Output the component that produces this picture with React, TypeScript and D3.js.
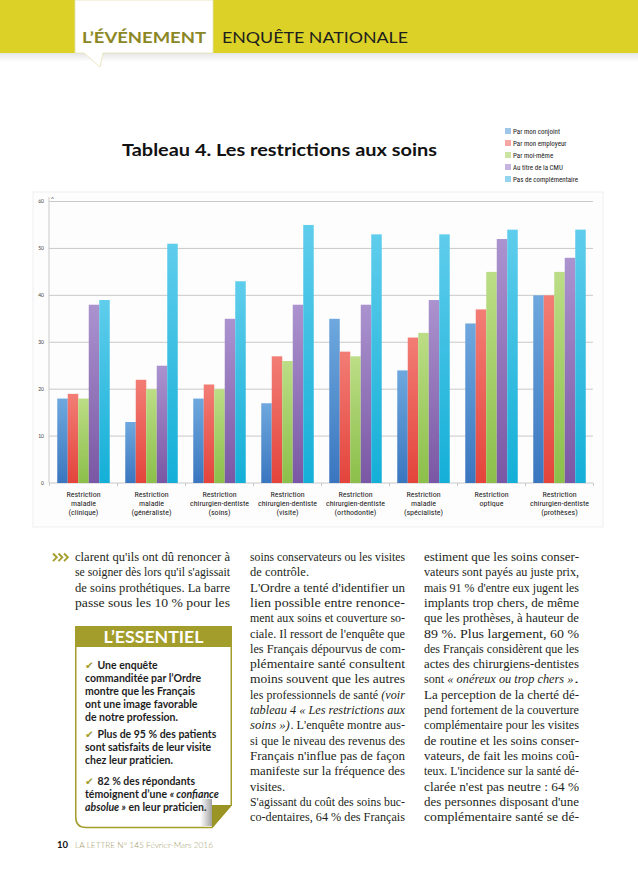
import React from 'react';
import * as d3 from 'd3';

// ---------- chart data ----------
const categories: string[][] = [
  ['Restriction', 'maladie', '(clinique)'],
  ['Restriction', 'maladie', '(généraliste)'],
  ['Restriction', 'chirurgien-dentiste', '(soins)'],
  ['Restriction', 'chirurgien-dentiste', '(visite)'],
  ['Restriction', 'chirurgien-dentiste', '(orthodontie)'],
  ['Restriction', 'maladie', '(spécialiste)'],
  ['Restriction', 'optique'],
  ['Restriction', 'chirurgien-dentiste', '(prothèses)'],
];
const seriesNames = ['Par mon conjoint', 'Par mon employeur', 'Par moi-même', 'Au titre de la CMU', 'Pas de complémentaire'];
const conjoint = [18, 13, 18, 17, 35, 24, 34, 40];
const employeur = [19, 22, 21, 27, 28, 31, 37, 40];
const moiMeme = [18, 20, 20, 26, 27, 32, 45, 45];
const cmu = [38, 25, 35, 38, 38, 39, 52, 48];
const sansComplementaire = [39, 51, 43, 55, 53, 53, 54, 54];
const yTicks = [0, 10, 20, 30, 40, 50, 60];

const seriesValues = [conjoint, employeur, moiMeme, cmu, sansComplementaire];
const barTop = ['#6ea8de', '#f27d75', '#bcdd86', '#ab93cf', '#5fcdec'];
const barBottom = ['#3a76bf', '#e3443b', '#8bbf4a', '#7a57a4', '#14afd7'];
const legendColors = ['#9fc5e8', '#f4a7a3', '#cbe4a2', '#c4b4de', '#93d5ee'];

// ---------- page text ----------
type Seg = { t: string; i?: boolean };
type Line = { segs: Seg[]; j: boolean };
const L = (t: string, j = true): Line => ({ segs: [{ t }], j });

const col1: Line[] = [
  L("clarent qu'ils ont dû renoncer à"),
  L("se soigner dès lors qu'il s'agissait"),
  L('de soins prothétiques. La barre'),
  L('passe sous les 10 % pour les'),
];
const col2: Line[] = [
  L('soins conservateurs ou les visites'),
  L('de contrôle.', false),
  L("L'Ordre a tenté d'identifier un"),
  L('lien possible entre renonce-'),
  L('ment aux soins et couverture so-'),
  L("ciale. Il ressort de l'enquête que"),
  L('les Français dépourvus de com-'),
  L('plémentaire santé consultent'),
  L('moins souvent que les autres'),
  { segs: [{ t: 'les professionnels de santé' }, { t: '(voir', i: true }], j: true },
  { segs: [{ t: 'tableau 4 « Les restrictions aux', i: true }], j: true },
  { segs: [{ t: 'soins »)', i: true }, { t: ". L'enquête montre aus-" }], j: true },
  L('si que le niveau des revenus des'),
  L("Français n'influe pas de façon"),
  L('manifeste sur la fréquence des'),
  L('visites.', false),
  L("S'agissant du coût des soins buc-"),
  L('co-dentaires, 64 % des Français'),
];
const col3: Line[] = [
  L('estiment que les soins conser-'),
  L('vateurs sont payés au juste prix,'),
  L("mais 91 % d'entre eux jugent les"),
  L('implants trop chers, de même'),
  L('que les prothèses, à hauteur de'),
  L('89 %. Plus largement, 60 %'),
  L('des Français considèrent que les'),
  L('actes des chirurgiens-dentistes'),
  { segs: [{ t: 'sont' }, { t: '« onéreux ou trop chers »', i: true }, { t: '.' }], j: true },
  L('La perception de la cherté dé-'),
  L('pend fortement de la couverture'),
  L('complémentaire pour les visites'),
  L('de routine et les soins conser-'),
  L('vateurs, de fait les moins coû-'),
  L("teux. L'incidence sur la santé dé-"),
  L("clarée n'est pas neutre : 64 %"),
  L("des personnes disposant d'une"),
  L('complémentaire santé se dé-'),
];

const boxItems: Seg[][][] = [
  [[{ t: 'Une enquête' }], [{ t: 'commanditée par l’Ordre' }], [{ t: 'montre que les Français' }], [{ t: 'ont une image favorable' }], [{ t: 'de notre profession.' }]],
  [[{ t: 'Plus de 95 % des patients' }], [{ t: 'sont satisfaits de leur visite' }], [{ t: 'chez leur praticien.' }]],
  [[{ t: '82 % des répondants' }], [{ t: 'témoignent d’une ' }, { t: '« confiance', i: true }], [{ t: 'absolue »', i: true }, { t: ' en leur praticien.' }]],
];

const OLIVE = '#a39d2b';
const SERIF = "'Liberation Serif', 'DejaVu Serif', serif";
const SANS = "Lato, 'Open Sans', sans-serif";
const NARROW = "'Liberation Sans Narrow', 'Roboto Condensed', Roboto, sans-serif";

export default function App() {
  const W = 638;
  const H = 879;

  const x = d3.scaleBand<number>().domain(d3.range(categories.length)).range([49.5, 593.5]).paddingInner(0.228).paddingOuter(0.114);
  const xs = d3.scaleBand<number>().domain(d3.range(seriesNames.length)).range([0, x.bandwidth()]);
  const y = d3.scaleLinear().domain([0, 60]).range([483, 201.5]);

  const colX = [75, 250, 424];
  const colW = 155;
  const base = 561;
  const lh = 15.3;

  const renderCol = (lines: Line[], cx: number, key: string) =>
    lines.map((ln, k) => {
      const yy = base + k * lh;
      if (!ln.j) {
        return (
          <text key={`${key}${k}`} x={cx} y={yy} fontFamily={SERIF} fontSize={12.5} fill="#231f20">
            {ln.segs.map((s) => s.t).join('')}
          </text>
        );
      }
      // segments are separated by a word space; widths shared by character count
      const n = ln.segs.length;
      const spaceW = n > 1 ? 3.2 : 0;
      const gaps = ln.segs.map((s, m) => (m < n - 1 && !ln.segs[m + 1].t.startsWith('.') ? spaceW : 0.6));
      const avail = colW - gaps.slice(0, n - 1).reduce((a, b) => a + b, 0);
      const total = ln.segs.reduce((a, s) => a + s.t.length, 0);
      let off = 0;
      return ln.segs.map((s, m) => {
        const w = (avail * s.t.length) / total;
        const el = (
          <text
            key={`${key}${k}-${m}`}
            x={cx + off}
            y={yy}
            fontFamily={SERIF}
            fontSize={12.5}
            fontStyle={s.i ? 'italic' : undefined}
            fill="#231f20"
            textLength={w}
            lengthAdjust="spacingAndGlyphs"
          >
            {s.t}
          </text>
        );
        off += w + gaps[m];
        return el;
      });
    });

  // box layout
  const itemStarts = [669, 738, 785];
  const boxLh = 13;

  const step = x.step();
  const gap = step - x.bandwidth();

  return (
    <svg width={W} height={H} viewBox={`0 0 ${W} ${H}`} style={{ position: 'absolute', left: 0, top: 0, display: 'block', background: '#fff' }}>
      <defs>
        {barTop.map((c, i) => (
          <linearGradient key={i} id={`bar${i}`} x1="0" y1="0" x2="0" y2="1">
            <stop offset="0" stopColor={c} />
            <stop offset="1" stopColor={barBottom[i]} />
          </linearGradient>
        ))}
        <linearGradient id="shadowDown" x1="0" y1="0" x2="0" y2="1">
          <stop offset="0" stopColor="#000" stopOpacity="0.10" />
          <stop offset="1" stopColor="#000" stopOpacity="0" />
        </linearGradient>
        <linearGradient id="foldShadow" x1="0" y1="0" x2="1" y2="0">
          <stop offset="0" stopColor="#888" stopOpacity="0" />
          <stop offset="1" stopColor="#777" stopOpacity="0.7" />
        </linearGradient>
      </defs>

      {/* ---------- banner ---------- */}
      <rect x={0} y={0} width={W} height={53} fill="#dcd127" />
      <rect x={0} y={53} width={W} height={9} fill="url(#shadowDown)" />
      <path d="M75,0 H213 V53 H103 L100,67 L84,53 H75 Z" fill="#fff" stroke="#e6e2b0" strokeWidth={0.8} />
      <text x={82} y={43} fontFamily={SANS} fontWeight={700} fontSize={16} fill="#8b8726" textLength={124} lengthAdjust="spacingAndGlyphs">L’ÉVÉNEMENT</text>
      <text x={222} y={43} fontFamily={SANS} fontWeight={400} fontSize={16} fill="#1e1e1e" textLength={186} lengthAdjust="spacingAndGlyphs">ENQUÊTE NATIONALE</text>

      {/* ---------- chart title & legend ---------- */}
      <text x={122} y={156} fontFamily={SANS} fontWeight={700} fontSize={17} fill="#111" textLength={315} lengthAdjust="spacingAndGlyphs">Tableau 4. Les restrictions aux soins</text>
      {seriesNames.map((n, i) => (
        <g key={n} transform={`translate(505, ${131 + i * 12})`}>
          <rect x={0} y={-3} width={6} height={6} fill={legendColors[i]} />
          <text x={8} y={2.5} fontFamily={NARROW} fontSize={7} fill="#222">{n}</text>
        </g>
      ))}

      {/* ---------- chart ---------- */}
      <rect x={33} y={192} width={570} height={335} fill="#fdfdfd" stroke="#efefef" />
      {yTicks.map((t) => (
        <g key={t}>
          <line x1={49} x2={593} y1={y(t)} y2={y(t)} stroke="#c9c9c9" strokeWidth={1} />
          <text x={44} y={y(t) + 1.8} textAnchor="end" fontFamily={SANS} fontSize={5} fill="#444">{t}</text>
        </g>
      ))}
      <line x1={49} x2={49} y1={197} y2={y(0)} stroke="#c9c9c9" strokeWidth={1} />
      <text x={52.5} y={201} textAnchor="middle" fontFamily={SANS} fontSize={6} fill="#555">^</text>
      {d3.range(categories.length + 1).map((k) => {
        const px = (x.range()[0] as number) + x.paddingOuter() * step - gap / 2 + k * step;
        return <line key={k} x1={px} x2={px} y1={y(0)} y2={y(0) + 3} stroke="#c9c9c9" />;
      })}
      {seriesValues.map((vals, s) => (
        <g key={s}>
          {vals.map((v, c) => (
            <rect
              key={c}
              x={(x(c) as number) + (xs(s) as number)}
              y={y(v)}
              width={xs.bandwidth()}
              height={y(0) - y(v)}
              fill={`url(#bar${s})`}
            />
          ))}
        </g>
      ))}
      {categories.map((lines, c) => (
        <text key={c} textAnchor="middle" fontFamily={NARROW} fontSize={8} fill="#222">
          {lines.map((t, k) => (
            <tspan key={k} x={(x(c) as number) + x.bandwidth() / 2} y={497 + k * 9}>{t}</tspan>
          ))}
        </text>
      ))}

      {/* ---------- body text ---------- */}
      {[0, 1, 2].map((k) => (
        <path key={k} d={`M${53 + k * 5.5},${553.5} l3.8,3.8 l-3.8,3.8`} fill="none" stroke={OLIVE} strokeWidth={1.9} />
      ))}
      {renderCol(col1, colX[0], 'a')}
      {renderCol(col2, colX[1], 'b')}
      {renderCol(col3, colX[2], 'c')}

      {/* ---------- L'ESSENTIEL box ---------- */}
      <rect x={75} y={626} width={157} height={21} fill={OLIVE} />
      <text x={153.5} y={643} textAnchor="middle" fontFamily={SANS} fontWeight={700} fontSize={17} fill="#fff" textLength={100} lengthAdjust="spacingAndGlyphs">L’ESSENTIEL</text>
      <path d="M75.75,647 V817 Q75.75,827.5 86,827.5 H212 L231.25,805 V647" fill="#fff" stroke={OLIVE} strokeWidth={1.5} />
      <rect x={200} y={799} width={12} height={27} fill="url(#foldShadow)" />
      <path d="M212,805 H232 L212,828 Z" fill="#9a9425" />
      {boxItems.map((item, i) =>
        item.map((line, k) => (
          <text key={`${i}-${k}`} x={85} y={itemStarts[i] + k * boxLh} fontFamily={SANS} fontWeight={700} fontSize={10.5} fill="#1e1e1e">
            {k === 0 && <tspan fontFamily="'DejaVu Sans', sans-serif" fill={OLIVE} fontSize={10.5}>✔ </tspan>}
            {line.map((s, m) => (
              <tspan key={m} fontStyle={s.i ? 'italic' : undefined}>{s.t}</tspan>
            ))}
          </text>
        ))
      )}

      {/* ---------- footer ---------- */}
      <text x={57} y={848} fontFamily={SANS} fontWeight={700} fontSize={9.5} fill="#111">10</text>
      <text x={75} y={848} fontFamily={SANS} fontWeight={300} fontSize={8} fill="#a39d6a" textLength={138} lengthAdjust="spacingAndGlyphs">LA LETTRE N° 145  Février-Mars 2016</text>
    </svg>
  );
}
